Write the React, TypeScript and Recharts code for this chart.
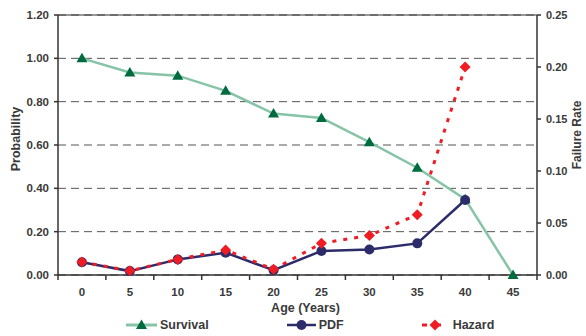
import React from 'react';
import {
  LineChart,
  Line,
  XAxis,
  YAxis,
  CartesianGrid,
  ReferenceLine,
} from 'recharts';

const ages = [0, 5, 10, 15, 20, 25, 30, 35, 40, 45];
const survival = [1.0, 0.935, 0.92, 0.85, 0.745, 0.725, 0.613, 0.495, 0.35, 0.0];
const pdf = [0.059, 0.018, 0.072, 0.103, 0.022, 0.111, 0.118, 0.146, 0.346, null];
const hazard = [0.0125, 0.004, 0.015, 0.024, 0.0055, 0.0305, 0.038, 0.058, 0.2, null];

const leftTicks = [0, 0.2, 0.4, 0.6, 0.8, 1.0, 1.2];
const rightTicks = [0, 0.05, 0.1, 0.15, 0.2, 0.25];

const data = ages.map((age, i) => ({
  age,
  survival: survival[i],
  pdf: pdf[i],
  hazard: hazard[i],
}));

const FONT = '"Liberation Sans", Arial, sans-serif';
const TEXT = '#3a3a3a';
const AXIS = '#333';

const GREEN_LINE = '#85c4a6';
const GREEN_MARK = '#006b3f';
const NAVY = '#2d2c6a';
const RED = '#f01c24';

const Triangle = ({ cx, cy }: any) =>
  cx == null || cy == null ? null : (
    <polygon
      points={`${cx},${cy - 5.5} ${cx - 5.5},${cy + 4} ${cx + 5.5},${cy + 4}`}
      fill={GREEN_MARK}
    />
  );

const Circle = ({ cx, cy }: any) =>
  cx == null || cy == null ? null : <circle cx={cx} cy={cy} r={5} fill={NAVY} />;

const Diamond = ({ cx, cy }: any) =>
  cx == null || cy == null ? null : (
    <polygon
      points={`${cx},${cy - 5.5} ${cx + 5.5},${cy} ${cx},${cy + 5.5} ${cx - 5.5},${cy}`}
      fill={RED}
    />
  );

const BAND = 47.9;

const AgeTick = ({ x, y, payload, index }: any) => (
  <g>
    <line x1={x - BAND / 2} y1={y - 8} x2={x - BAND / 2} y2={y - 3} stroke={AXIS} strokeWidth={1.5} />
    {index === ages.length - 1 && (
      <line x1={x + BAND / 2} y1={y - 8} x2={x + BAND / 2} y2={y - 3} stroke={AXIS} strokeWidth={1.5} />
    )}
    <text x={x} y={y + 13} textAnchor="middle" fontSize={11.5} fontWeight="bold" fill={TEXT} fontFamily={FONT}>
      {payload.value}
    </text>
  </g>
);

const legendItems = [
  { name: 'Survival', kind: 'survival' },
  { name: 'PDF', kind: 'pdf' },
  { name: 'Hazard', kind: 'hazard' },
];

const LegendIcon = ({ kind }: { kind: string }) => {
  if (kind === 'survival') {
    return (
      <svg width={31} height={12}>
        <line x1={0} y1={6} x2={31} y2={6} stroke={GREEN_LINE} strokeWidth={3} />
        <polygon points="15.5,0.5 10,10 21,10" fill={GREEN_MARK} />
      </svg>
    );
  }
  if (kind === 'pdf') {
    return (
      <svg width={29} height={12}>
        <line x1={0} y1={6} x2={29} y2={6} stroke={NAVY} strokeWidth={2.5} />
        <circle cx={14.5} cy={6} r={5} fill={NAVY} />
      </svg>
    );
  }
  return (
    <svg width={19} height={12}>
      <line x1={0} y1={6} x2={5} y2={6} stroke={RED} strokeWidth={3} />
      <line x1={13} y1={6} x2={19} y2={6} stroke={RED} strokeWidth={3} />
      <polygon points="13,0.5 18.5,6 13,11.5 7.5,6" fill={RED} />
    </svg>
  );
};

const tickStyle = { fontSize: 11.5, fontWeight: 'bold', fill: TEXT, fontFamily: FONT };

export default function App() {
  return (
    <div style={{ position: 'absolute', left: 0, top: 0, width: 586, height: 336, background: '#fff' }}>
      <LineChart
        width={586}
        height={336}
        data={data}
        margin={{ top: 15, right: 4, bottom: 31, left: 8 }}
      >
        <CartesianGrid
          yAxisId="left"
          vertical={false}
          stroke="#555"
          strokeDasharray="8 5"
          strokeWidth={1}
        />
        <ReferenceLine yAxisId="left" y={1.2} stroke={AXIS} strokeWidth={1.2} />
        <XAxis
          dataKey="age"
          type="category"
          padding={{ left: BAND / 2, right: BAND / 2 }}
          tickLine={false}
          axisLine={{ stroke: AXIS, strokeWidth: 1.5 }}
          tick={<AgeTick />}
          height={30}
          interval={0}
          label={{
            content: ({ viewBox }: any) => (
              <text
                x={viewBox.x + viewBox.width / 2 + 8}
                y={viewBox.y + 37}
                textAnchor="middle"
                fontSize={12.5}
                fontWeight="bold"
                fill={TEXT}
                fontFamily={FONT}
              >
                Age (Years)
              </text>
            ),
          }}
        />
        <YAxis
          yAxisId="left"
          width={50}
          domain={[0, 1.2]}
          ticks={leftTicks}
          tickFormatter={(v: number) => v.toFixed(2)}
          axisLine={{ stroke: AXIS, strokeWidth: 1.5 }}
          tickLine={{ stroke: AXIS, strokeWidth: 1.5 }}
          tickSize={4}
          tickMargin={5}
          tick={tickStyle}
          label={{
            content: ({ viewBox }: any) => {
              const cx = viewBox.x + 8;
              const cy = viewBox.y + viewBox.height / 2 - 6;
              return (
                <text
                  x={cx}
                  y={cy}
                  transform={`rotate(-90, ${cx}, ${cy})`}
                  textAnchor="middle"
                  dominantBaseline="central"
                  fontSize={12.5}
                  fontWeight="bold"
                  fill={TEXT}
                  fontFamily={FONT}
                >
                  Probability
                </text>
              );
            },
          }}
        />
        <YAxis
          yAxisId="right"
          orientation="right"
          width={45}
          domain={[0, 0.25]}
          ticks={rightTicks}
          tickFormatter={(v: number) => v.toFixed(2)}
          axisLine={{ stroke: AXIS, strokeWidth: 1.5 }}
          tickLine={{ stroke: AXIS, strokeWidth: 1.5 }}
          tickSize={4}
          tickMargin={5}
          tick={{ ...tickStyle, fontSize: 11 }}
          label={{
            content: ({ viewBox }: any) => {
              const cx = viewBox.x + 40;
              const cy = viewBox.y + viewBox.height / 2 - 10;
              return (
                <text
                  x={cx}
                  y={cy}
                  transform={`rotate(-90, ${cx}, ${cy})`}
                  textAnchor="middle"
                  dominantBaseline="central"
                  fontSize={12}
                  fontWeight="bold"
                  fill={TEXT}
                  fontFamily={FONT}
                >
                  Failure Rate
                </text>
              );
            },
          }}
        />
        <Line
          yAxisId="left"
          dataKey="survival"
          stroke={GREEN_LINE}
          strokeWidth={2.5}
          dot={<Triangle />}
          activeDot={false}
          isAnimationActive={false}
        />
        <Line
          yAxisId="left"
          dataKey="pdf"
          stroke={NAVY}
          strokeWidth={2.5}
          dot={<Circle />}
          activeDot={false}
          isAnimationActive={false}
        />
        <Line
          yAxisId="right"
          dataKey="hazard"
          stroke={RED}
          strokeWidth={3}
          strokeDasharray="4 7"
          dot={<Diamond />}
          activeDot={false}
          isAnimationActive={false}
        />
      </LineChart>
      <div
        style={{
          position: 'absolute',
          left: 126,
          top: 318,
          display: 'flex',
          alignItems: 'center',
          gap: 78,
          fontFamily: FONT,
          fontWeight: 'bold',
          fontSize: 12.5,
          color: TEXT,
        }}
      >
        {legendItems.map((item) => (
          <div key={item.name} style={{ display: 'flex', alignItems: 'center', gap: item.kind === 'hazard' ? 12 : 3 }}>
            <LegendIcon kind={item.kind} />
            <span>{item.name}</span>
          </div>
        ))}
      </div>
    </div>
  );
}
